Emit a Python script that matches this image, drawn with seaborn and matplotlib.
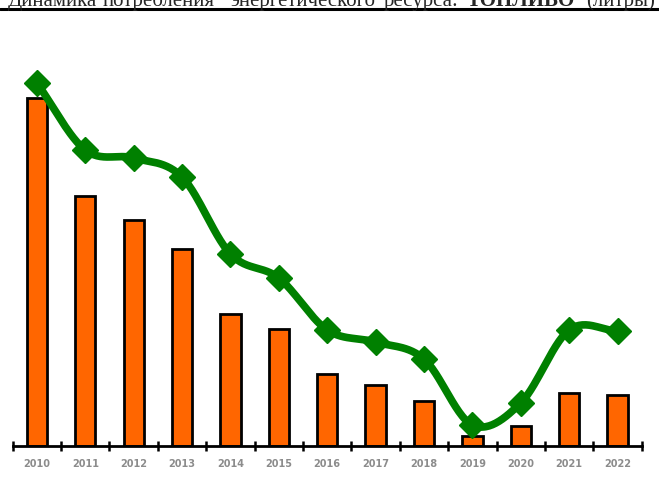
"""
Fuel consumption dynamics: bars + smoothed trend line
"""

import matplotlib
matplotlib.use("Agg")
import matplotlib.pyplot as plt
import seaborn as sns
import pandas as pd
import numpy as np

# data (arbitrary units, no y scale shown)
years = ['2010', '2011', '2012', '2013', '2014', '2015', '2016',
         '2017', '2018', '2019', '2020', '2021', '2022']
bar_values = [348, 250, 226, 197, 132, 117, 72, 61, 45, 10, 20, 53, 51]
line_values = [363, 296, 288, 269, 192, 168, 116, 104, 87, 21, 43, 116, 115]

# heading words (justified line, partly cut off at the top of the page)
title_words = ['Динамика', 'потребления', 'энергетического', 'ресурса:',
               'ТОПЛИВО', '(литры)']
title_bold = [False, False, False, False, True, False]
title_x = [8, 103, 230, 384, 467, 586]

BAR_COLOR = '#FF6600'
LINE_COLOR = '#008000'
TICK_COLOR = '#8C8C8C'


def catmull_rom(x, y, n=30):
    """Smooth curve through the points (Excel style 'smoothed line')"""
    x = np.asarray(x, float)
    y = np.asarray(y, float)
    px = np.concatenate([[2 * x[0] - x[1]], x, [2 * x[-1] - x[-2]]])
    py = np.concatenate([[2 * y[0] - y[1]], y, [2 * y[-1] - y[-2]]])
    t = np.linspace(0, 1, n)[:, None]
    xs, ys = [], []
    for i in range(1, len(px) - 2):
        for p, out in ((px, xs), (py, ys)):
            p0, p1, p2, p3 = p[i - 1], p[i], p[i + 1], p[i + 2]
            seg = 0.5 * ((2 * p1) + (-p0 + p2) * t
                         + (2 * p0 - 5 * p1 + 4 * p2 - p3) * t ** 2
                         + (-p0 + 3 * p1 - 3 * p2 + p3) * t ** 3)
            out.append(seg.ravel())
    return np.concatenate(xs), np.concatenate(ys)


sns.set_style("white")

df = pd.DataFrame({'year': years, 'bar': bar_values, 'line': line_values})

fig = plt.figure(figsize=(6.59, 4.90), dpi=100)
ax = fig.add_axes([12.7 / 659, 1 - 446 / 490, (641.7 - 12.7) / 659, 426 / 490])

sns.barplot(data=df, x='year', y='bar', color=BAR_COLOR, width=0.42,
            edgecolor='black', linewidth=2, saturation=1, ax=ax)

pos = np.arange(len(years))
sx, sy = catmull_rom(pos, df['line'])
sns.lineplot(x=sx, y=sy, color=LINE_COLOR, linewidth=5.5, sort=False,
             estimator=None, ax=ax, zorder=3)
ax.plot(pos, df['line'], linestyle='none', marker='D', markersize=13,
        color=LINE_COLOR, zorder=4, clip_on=False)

ax.set_xlim(-0.5, len(years) - 0.5)
ax.set_ylim(0, 426)
ax.set_xlabel('')
ax.set_ylabel('')
ax.set_yticks([])

for side in ['top', 'left', 'right']:
    ax.spines[side].set_visible(False)
ax.spines['bottom'].set_linewidth(2)
ax.spines['bottom'].set_color('black')

ax.set_xticks(pos)
ax.set_xticklabels(years, fontsize=7, fontweight='bold', color=TICK_COLOR)
ax.tick_params(axis='x', which='major', length=0, pad=9)
ax.set_xticks(np.arange(-0.5, len(years)), minor=True)
ax.tick_params(axis='x', which='minor', direction='inout', length=7,
               width=1.8, color='black', bottom=True)

# cut-off heading at the top of the page
for word, bold, x in zip(title_words, title_bold, title_x):
    fig.text(x / 659, 1 - 6 / 490, word, family='Liberation Serif',
             fontsize=15, fontweight='bold' if bold else 'normal',
             va='baseline', ha='left')
fig.add_artist(plt.Line2D([0, 1], [1 - 9.5 / 490] * 2, color='black',
                          linewidth=2.2, transform=fig.transFigure))

fig.savefig('out.png', dpi=100)
